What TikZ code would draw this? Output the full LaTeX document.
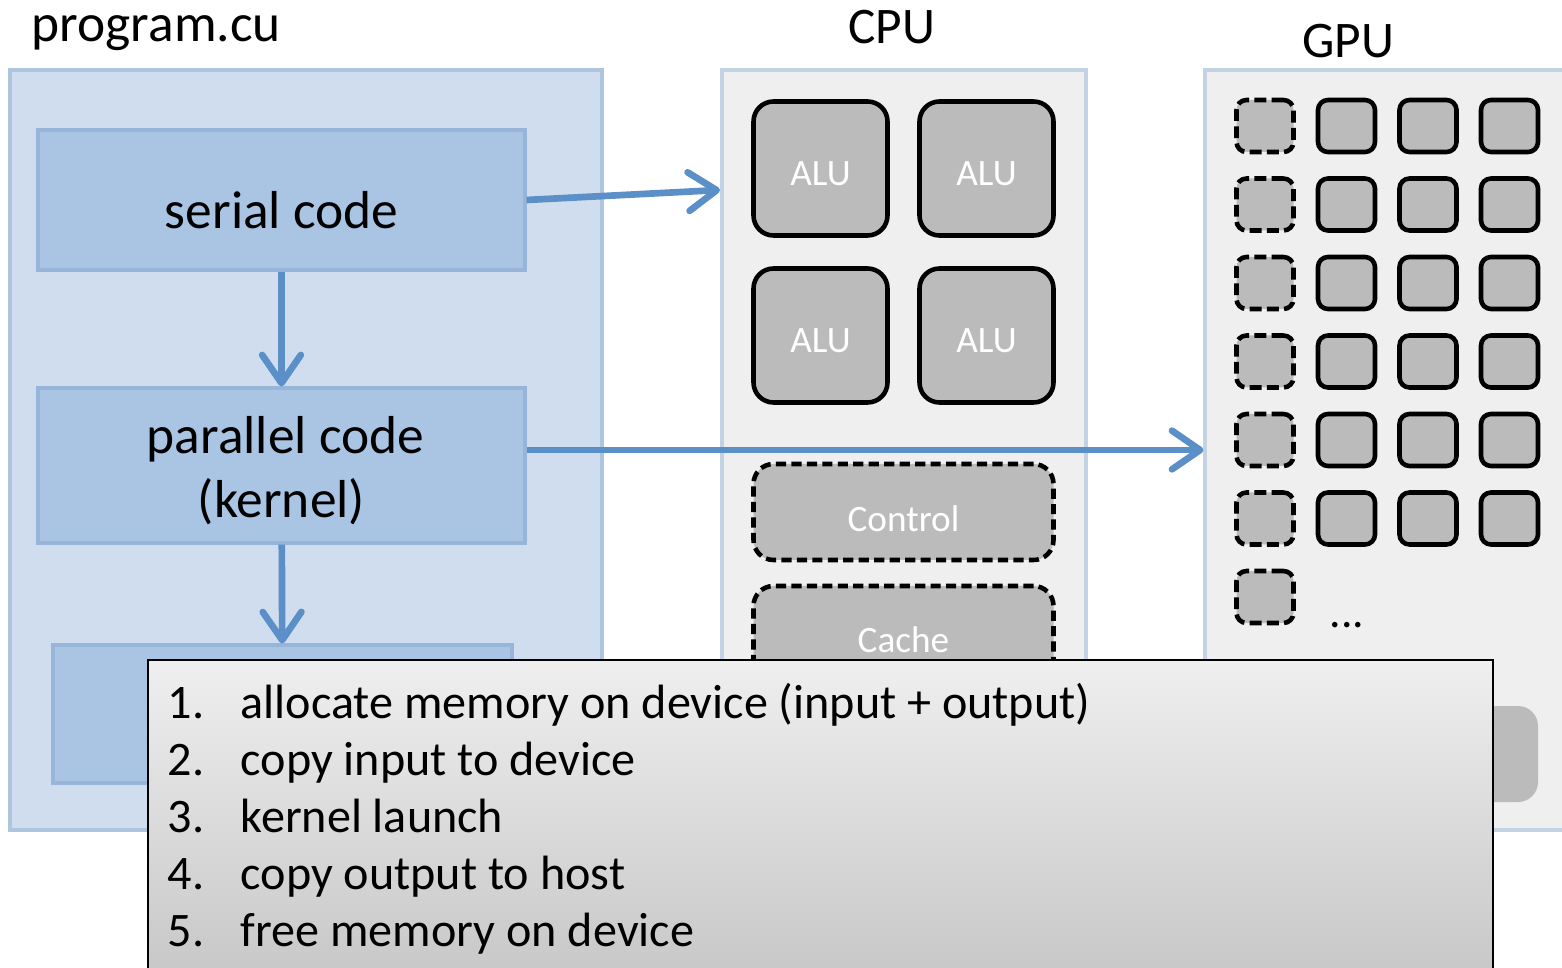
\documentclass[tikz,border=0pt]{standalone}
\usepackage{fontspec}
\setmainfont{Carlito}
\usepackage{xcolor}
\usepackage{tikz}
\usetikzlibrary{arrows.meta}

\definecolor{progfill}{HTML}{CFDDEE}
\definecolor{progdraw}{HTML}{AEC5DF}
\definecolor{codefill}{HTML}{A9C5E3}
\definecolor{codedraw}{HTML}{96B5D8}
\definecolor{flowblue}{HTML}{5B8FC8}
\definecolor{panelfill}{HTML}{EFEFEF}
\definecolor{paneldraw}{HTML}{C4D3E4}
\definecolor{unitfill}{HTML}{BBBBBB}

\begin{document}
\begin{tikzpicture}[y=-1cm,
    progbox/.style={draw=progdraw, fill=progfill, line width=0.9pt},
    codebox/.style={draw=codedraw, fill=codefill, line width=0.9pt,
        minimum width=4.87cm, font=\fontsize{15.2}{18.1}\selectfont, align=center},
    panel/.style={draw=paneldraw, fill=panelfill, line width=0.9pt,
        minimum width=3.64cm, minimum height=7.6cm},
    unit/.style={draw, fill=unitfill, line width=1.3pt, rounded corners=0.2cm,
        text=white, font=\fontsize{10.6}{12}\selectfont},
    dashunit/.style={unit, dash pattern=on 2.9pt off 1.5pt},
    cell/.style={draw, fill=unitfill, line width=1.3pt, rounded corners=0.1cm,
        minimum width=0.57cm, minimum height=0.52cm},
    flow/.style={draw=flowblue, line width=1.9pt,
        -{Straight Barb[length=8pt, width=11pt, round]}},
    heading/.style={font=\fontsize{14.6}{16}\selectfont},
    item/.style={font=\fontsize{13.7}{15}\selectfont, anchor=base west, inner sep=0pt}
]
    \useasboundingbox (0,0) rectangle (15.62,9.68);

    % host program
    \node[progbox, minimum width=5.92cm, minimum height=7.6cm] (prog) at (3.06,4.50) {};
    \node[heading, font=\fontsize{15.2}{16}\selectfont, anchor=base west, inner sep=0pt] (progtitle) at (0.31,0.42) {program.cu};
    \node[codebox, minimum height=1.40cm, text height=0.58cm, text depth=0cm] (serial) at (2.815,2.00) {serial code};
    \node[codebox, minimum height=1.55cm] (parallel) at (2.815,4.655) {\rule{0pt}{0.48cm}\hspace*{0.08cm}parallel code\\(kernel)};
    \node[codebox, minimum width=4.59cm, minimum height=1.38cm] (hostcode) at (2.825,7.14) {};

    % CPU
    \node[panel] (cpu) at (9.04,4.50) {};
    \node[heading, anchor=base, inner sep=0pt] (cputitle) at (8.92,0.44) {CPU};
    \foreach \r in {0,1} {
        \foreach \c in {0,1} {
            \node[unit, minimum width=1.34cm, minimum height=1.34cm, text height=0.35cm, text depth=0cm] (alu\r\c) at ({8.205+1.66*\c},{1.685+1.67*\r}) {ALU};
        }
    }
    \node[dashunit, minimum width=3.0cm, minimum height=0.96cm, text height=0.39cm, text depth=0cm] (control) at (9.035,5.12) {Control};
    \node[dashunit, minimum width=3.0cm, minimum height=0.96cm, text height=0.37cm, text depth=0cm] (cache) at (9.035,6.34) {Cache};

    % GPU
    \node[panel, minimum width=3.8cm] (gpu) at (13.95,4.50) {};
    \node[heading, anchor=base, inner sep=0pt] (gputitle) at (13.48,0.58) {GPU};
    \foreach \r in {0,...,6} {
        \node[cell, dash pattern=on 3.4pt off 1.5pt] (g\r0) at (12.65,{1.26+0.785*\r}) {};
    }
    \foreach \r in {0,...,5} {
        \foreach \c in {1,2,3} {
            \node[cell] (g\r\c) at ({12.65+0.815*\c},{1.26+0.785*\r}) {};
        }
    }
    \node[font=\fontsize{13}{14}\selectfont] (more) at (13.47,6.25) {...};
    \fill[unitfill, rounded corners=0.2cm] (12.3,7.06) rectangle (15.38,8.02);

    \draw[flow] (serial) -- (parallel);
    \draw[flow] (parallel) -- (hostcode);
    \coordinate (cpuin) at (7.20,1.90);
    \draw[flow] (serial.east) -- (cpuin);
    \draw[flow] (parallel.east |- gpu.west) -- (gpu.west);

    % steps
    \node[draw=black, line width=0.6pt, top color=panelfill, bottom color=black!22,
        minimum width=13.45cm, minimum height=3.2cm] (tasks) at (8.205,8.20) {};
    \foreach \i/\txt in {1/allocate memory on device (input + output),
                         2/copy input to device,
                         3/kernel launch,
                         4/copy output to host,
                         5/free memory on device} {
        \node[item] (num\i) at (1.67,{7.18+0.57*(\i-1)}) {\i.};
        \node[item] (task\i) at (2.40,{7.18+0.57*(\i-1)}) {\txt};
    }
\end{tikzpicture}
\end{document}
